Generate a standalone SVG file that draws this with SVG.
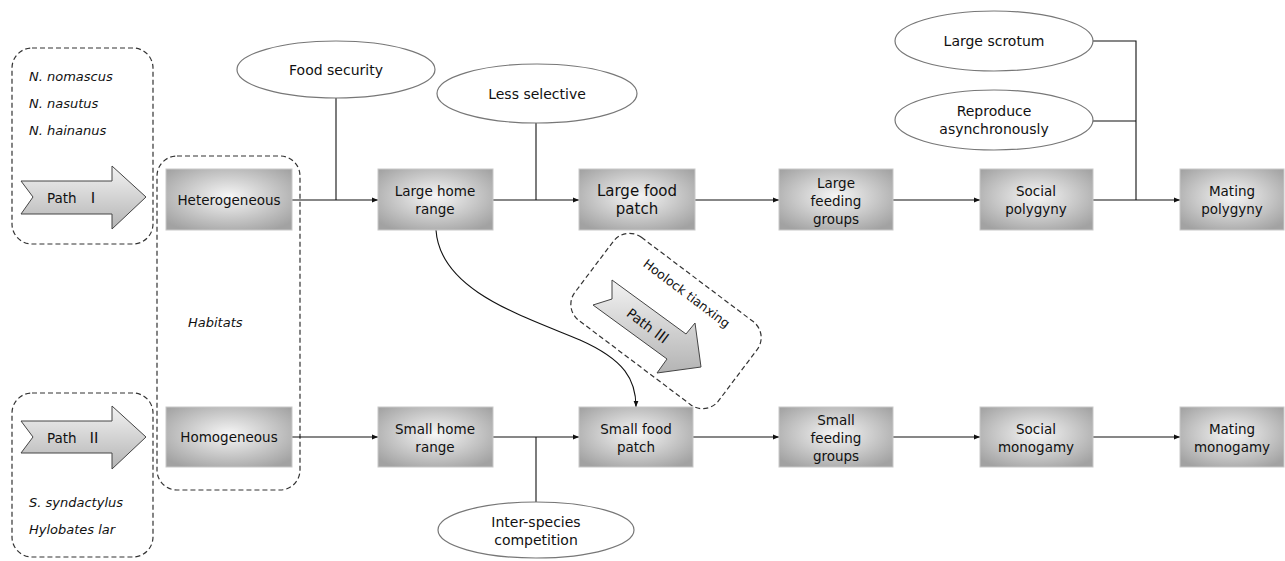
<svg xmlns="http://www.w3.org/2000/svg" width="1285" height="561" viewBox="0 0 1285 561">
<defs>
<radialGradient id="boxg" cx="50%" cy="45%" r="65%">
<stop offset="0" stop-color="#f6f6f6"/>
<stop offset="1" stop-color="#a2a2a2"/>
</radialGradient>
<linearGradient id="arrg" x1="0" y1="0" x2="0" y2="1">
<stop offset="0" stop-color="#f2f2f2"/>
<stop offset="1" stop-color="#b4b4b4"/>
</linearGradient>
<marker id="ah" viewBox="0 0 10 10" refX="10" refY="5" markerWidth="7" markerHeight="6" orient="auto" markerUnits="userSpaceOnUse">
<path d="M0,1 L10,5 L0,9 Z" fill="#111"/>
</marker>
</defs>
<style>
.box{fill:url(#boxg);stroke:#c8c8c8;stroke-width:1}
.t{font-family:"DejaVu Sans","Liberation Sans",sans-serif;font-size:13.5px;fill:#111;text-anchor:middle}
.big{font-size:15px}
.el{font-size:14px}
.rn{font-family:"Noto Sans CJK SC","DejaVu Serif",serif;font-size:15px}
.it{font-family:"DejaVu Sans","Liberation Sans",sans-serif;font-size:13px;font-style:italic;fill:#111}
.dash{fill:none;stroke:#333;stroke-width:1.2;stroke-dasharray:5,3}
.ell{fill:#fff;stroke:#777;stroke-width:1.2}
.arr{fill:url(#arrg);stroke:#444;stroke-width:1}
.ln{fill:none;stroke:#111;stroke-width:1.1}
.ab{marker-end:url(#ah)}
</style>
<rect width="1285" height="561" fill="#fff"/>

<g id="group-path1">
<rect class="dash" x="12" y="48" width="141" height="196" rx="20"/>
<text class="it" x="29" y="81">N. nomascus</text>
<text class="it" x="29" y="108">N. nasutus</text>
<text class="it" x="29" y="135">N. hainanus</text>
<polygon class="arr" points="21,181 112,181 112,166 146,197 112,229 112,214 21,214 33,197"/>
<text class="t" x="47" y="203" style="text-anchor:start">Path</text>
<text class="t rn" x="93" y="203">Ⅰ</text>
</g>

<g id="group-path2">
<rect class="dash" x="12" y="393" width="141" height="164" rx="20"/>
<polygon class="arr" points="21,421 112,421 112,406 146,437 112,469 112,453 21,453 33,437"/>
<text class="t" x="47" y="443" style="text-anchor:start">Path</text>
<text class="t rn" x="94" y="443">Ⅱ</text>
<text class="it" x="29" y="507">S. syndactylus</text>
<text class="it" x="29" y="534">Hylobates lar</text>
</g>

<g id="group-habitats">
<rect class="dash" x="157" y="156" width="143" height="334" rx="20"/>
<text class="it" x="188" y="327">Habitats</text>
</g>

<g id="group-path3">
<rect class="dash" x="-90" y="-52" width="180" height="104" rx="20" transform="translate(666,321) rotate(37)"/>
<text class="t" transform="translate(684,297) rotate(37)" style="font-size:12.5px">Hoolock tianxing</text>
<polygon class="arr" points="612,280 686,334 695,323 701,367 657,373 667,359 593,305 612,299"/>
<text class="t" transform="translate(645,330) rotate(37)">Path <tspan class="rn">Ⅲ</tspan></text>
</g>

<g id="connectors">
<path class="ln ab" d="M292,200 H378"/>
<path class="ln ab" d="M493,200 H579"/>
<path class="ln ab" d="M695,200 H779"/>
<path class="ln ab" d="M893,200 H980"/>
<path class="ln ab" d="M1093,200 H1180"/>
<path class="ln ab" d="M292,437 H378"/>
<path class="ln ab" d="M493,437 H579"/>
<path class="ln ab" d="M693,437 H779"/>
<path class="ln ab" d="M893,437 H980"/>
<path class="ln ab" d="M1093,437 H1180"/>
<path class="ln" d="M336,98 V200"/>
<path class="ln" d="M536,123 V200"/>
<path class="ln" d="M1093,41 H1136 V200"/>
<path class="ln" d="M1093,121 H1136"/>
<path class="ln" d="M536,502 V437"/>
<path class="ln ab" d="M436,230 C440,290 520,315 580,340 C625,360 636,380 636,407"/>
</g>

<g id="n-heterogeneous"><rect class="box" x="166" y="169" width="126" height="61"/><text class="t" x="229" y="205">Heterogeneous</text></g>
<g id="n-large-home"><rect class="box" x="378" y="169" width="115" height="61"/><text class="t" x="435" y="196">Large home</text><text class="t" x="435" y="214">range</text></g>
<g id="n-large-food"><rect class="box" x="579" y="169" width="116" height="61"/><text class="t big" x="637" y="196">Large food</text><text class="t big" x="637" y="214">patch</text></g>
<g id="n-large-feeding"><rect class="box" x="779" y="169" width="114" height="61"/><text class="t" x="836" y="188">Large</text><text class="t" x="836" y="206">feeding</text><text class="t" x="836" y="224">groups</text></g>
<g id="n-social-polygyny"><rect class="box" x="980" y="169" width="113" height="61"/><text class="t" x="1036" y="196">Social</text><text class="t" x="1036" y="214">polygyny</text></g>
<g id="n-mating-polygyny"><rect class="box" x="1180" y="169" width="104" height="61"/><text class="t" x="1232" y="196">Mating</text><text class="t" x="1232" y="214">polygyny</text></g>

<g id="n-homogeneous"><rect class="box" x="166" y="407" width="126" height="60"/><text class="t" x="229" y="442">Homogeneous</text></g>
<g id="n-small-home"><rect class="box" x="378" y="407" width="115" height="60"/><text class="t" x="435" y="434">Small home</text><text class="t" x="435" y="452">range</text></g>
<g id="n-small-food"><rect class="box" x="579" y="407" width="114" height="60"/><text class="t" x="636" y="434">Small food</text><text class="t" x="636" y="452">patch</text></g>
<g id="n-small-feeding"><rect class="box" x="779" y="407" width="114" height="60"/><text class="t" x="836" y="425">Small</text><text class="t" x="836" y="443">feeding</text><text class="t" x="836" y="461">groups</text></g>
<g id="n-social-monogamy"><rect class="box" x="980" y="407" width="113" height="60"/><text class="t" x="1036" y="434">Social</text><text class="t" x="1036" y="452">monogamy</text></g>
<g id="n-mating-monogamy"><rect class="box" x="1180" y="407" width="104" height="60"/><text class="t" x="1232" y="434">Mating</text><text class="t" x="1232" y="452">monogamy</text></g>

<g id="e-food-security"><ellipse class="ell" cx="336" cy="69.5" rx="99" ry="28.5"/><text class="t el" x="336" y="75">Food security</text></g>
<g id="e-less-selective"><ellipse class="ell" cx="537" cy="93.5" rx="100" ry="29.5"/><text class="t el" x="537" y="99">Less selective</text></g>
<g id="e-large-scrotum"><ellipse class="ell" cx="994" cy="41" rx="99" ry="30"/><text class="t el" x="994" y="46">Large scrotum</text></g>
<g id="e-reproduce"><ellipse class="ell" cx="994" cy="120" rx="99" ry="30"/><text class="t el" x="994" y="116">Reproduce</text><text class="t el" x="994" y="134">asynchronously</text></g>
<g id="e-inter-species"><ellipse class="ell" cx="536" cy="530" rx="98" ry="28"/><text class="t el" x="536" y="527">Inter-species</text><text class="t el" x="536" y="545">competition</text></g>
</svg>
